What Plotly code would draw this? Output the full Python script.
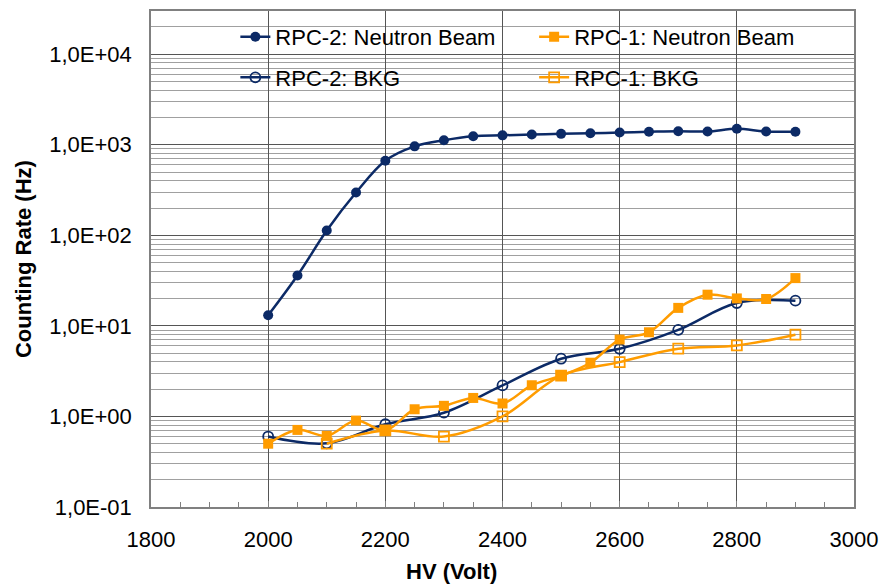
import plotly.graph_objects as go

# ---- data ----
hv_50 = [2000, 2050, 2100, 2150, 2200, 2250, 2300, 2350, 2400, 2450,
         2500, 2550, 2600, 2650, 2700, 2750, 2800, 2850, 2900]
hv_100 = [2000, 2100, 2200, 2300, 2400, 2500, 2600, 2700, 2800, 2900]
hv_bkg1 = [2100, 2200, 2300, 2400, 2500, 2600, 2700, 2800, 2900]

rpc2_beam = [13.1, 36, 113, 297, 667, 960, 1120, 1240, 1270, 1300,
             1320, 1340, 1365, 1390, 1410, 1400, 1500, 1400, 1390]
rpc1_beam = [0.50, 0.71, 0.61, 0.90, 0.70, 1.2, 1.31, 1.6, 1.39, 2.21,
             2.82, 3.92, 7.07, 8.5, 15.8, 22.1, 20.1, 19.8, 33.7]
rpc2_bkg = [0.60, 0.505, 0.82, 1.1, 2.2, 4.34, 5.59, 9.04, 17.9, 19.0]
rpc1_bkg = [0.50, 0.70, 0.60, 1.0, 2.82, 3.98, 5.6, 6.08, 8.0]

y_tickvals = [0.1, 1, 10, 100, 1000, 10000]
y_ticktext = ["1,0E-01", "1,0E+00", "1,0E+01", "1,0E+02", "1,0E+03", "1,0E+04"]
x_tickvals = [1800, 2000, 2200, 2400, 2600, 2800, 3000]

NAVY = "#0c2a66"
ORANGE = "#ff9c00"
FONT = "Arial, Liberation Sans, sans-serif"
FS = 22

fig = go.Figure()
fig.add_trace(go.Scatter(x=hv_50, y=rpc2_beam, name="RPC-2: Neutron Beam",
                         mode="lines+markers", line=dict(color=NAVY, width=2.5, shape="spline"),
                         marker=dict(symbol="circle", size=10, color=NAVY),
                         legend="legend", legendgroup="a"))
fig.add_trace(go.Scatter(x=hv_100, y=rpc2_bkg, name="RPC-2: BKG",
                         mode="lines+markers", line=dict(color=NAVY, width=2.5, shape="spline"),
                         marker=dict(symbol="circle-open", size=10, color=NAVY, line=dict(width=1.8)),
                         legend="legend", legendgroup="b"))
fig.add_trace(go.Scatter(x=hv_50, y=rpc1_beam, name="RPC-1: Neutron Beam",
                         mode="lines+markers", line=dict(color=ORANGE, width=2.5, shape="spline"),
                         marker=dict(symbol="square", size=10, color=ORANGE),
                         legend="legend2", legendgroup="c"))
fig.add_trace(go.Scatter(x=hv_bkg1, y=rpc1_bkg, name="RPC-1: BKG",
                         mode="lines+markers", line=dict(color=ORANGE, width=2.5, shape="spline"),
                         marker=dict(symbol="square-open", size=10, color=ORANGE, line=dict(width=1.8)),
                         legend="legend2", legendgroup="d"))

# white legend background covering the gridlines
fig.add_shape(type="rect", xref="x", yref="paper", x0=1924, x1=2931, y0=0.829, y1=1,
              fillcolor="white", line=dict(width=0), layer="between")

fig.update_layout(
    width=887, height=587,
    margin=dict(l=151, r=28, t=9, b=80),
    paper_bgcolor="white", plot_bgcolor="white",
    font=dict(family=FONT, size=FS, color="black"),
    showlegend=True,
    legend=dict(x=0.12, y=0.99, xanchor="left", yanchor="top", bgcolor="rgba(0,0,0,0)",
                tracegroupgap=9, font=dict(size=FS), itemwidth=30),
    legend2=dict(x=0.545, y=0.99, xanchor="left", yanchor="top", bgcolor="rgba(0,0,0,0)",
                 tracegroupgap=9, font=dict(size=FS), itemwidth=30),
    xaxis=dict(range=[1800, 3000], tickvals=x_tickvals, showgrid=True,
               gridcolor="#555555", gridwidth=1, showline=True, linecolor="#808080",
               linewidth=1.5, mirror=True, ticks="inside", ticklen=6, tickcolor="#808080",
               ticklabelstandoff=12, zeroline=False,
               minor=dict(dtick=50, ticks="inside", ticklen=5, tickcolor="#808080", showgrid=False),
               tickfont=dict(size=FS)),
    xaxis2=dict(range=[1800, 3000], overlaying="x", side="top", anchor="y",
                tickvals=x_tickvals, showticklabels=False, ticks="inside", ticklen=8,
                tickcolor="#808080", showgrid=False, showline=False, zeroline=False),
    yaxis=dict(type="log", range=[-1, 4.477], tickvals=y_tickvals, ticktext=y_ticktext,
               showgrid=True, gridcolor="#555555", gridwidth=1, showline=True,
               linecolor="#808080", linewidth=1.5, mirror=True, ticks="",
               ticklabelstandoff=13, zeroline=False,
               minor=dict(dtick="D1", showgrid=True, gridcolor="#a0a0a0", gridwidth=1, ticks=""),
               tickfont=dict(size=FS)),
    annotations=[
        dict(text="<b>HV (Volt)</b>", xref="paper", yref="paper", x=0.428, y=-0.1305,
             xanchor="center", yanchor="middle", showarrow=False, font=dict(size=FS)),
        dict(text="<b>Counting Rate (Hz)</b>", xref="paper", yref="paper", x=-0.182, y=0.5,
             xanchor="center", yanchor="middle", textangle=-90, showarrow=False, font=dict(size=FS)),
    ],
)

fig.write_html("out.html", config={"displayModeBar": False},
               post_script="document.body.style.margin='0';document.body.style.overflow='hidden';")
